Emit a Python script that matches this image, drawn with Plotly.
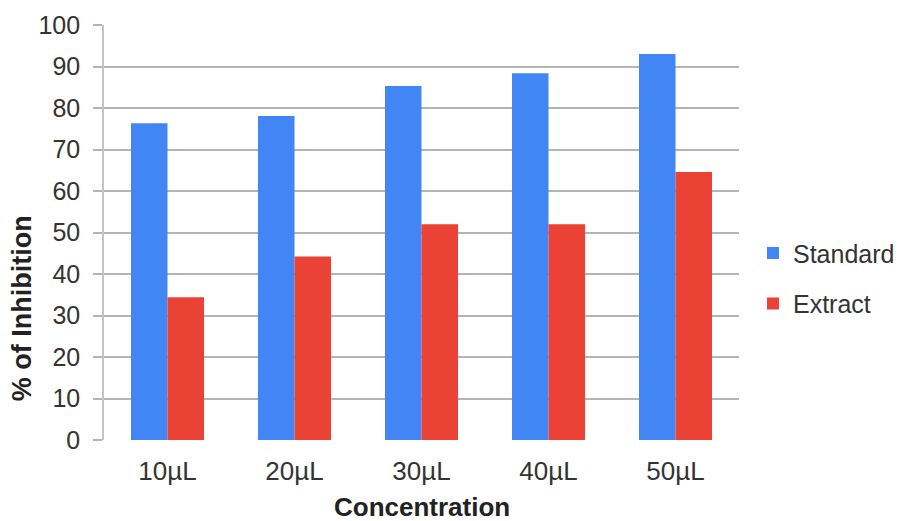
import plotly.graph_objects as go

categories = ["10µL", "20µL", "30µL", "40µL", "50µL"]
standard = [76.3, 78.1, 85.3, 88.4, 93.0]
extract = [34.4, 44.2, 52.0, 52.0, 64.6]
y_ticks = [0, 10, 20, 30, 40, 50, 60, 70, 80, 90, 100]

FONT = "Liberation Sans, Arial, sans-serif"
GRID = "#b4b4b4"

fig = go.Figure()
fig.add_trace(go.Bar(name="Standard", x=categories, y=standard,
                     marker=dict(color="#4285F4", line=dict(width=0)),
                     legendgroup="s"))
fig.add_trace(go.Bar(name="Extract", x=categories, y=extract,
                     marker=dict(color="#EA4335", line=dict(width=0)),
                     legendgroup="e"))

fig.update_layout(
    width=906, height=521,
    margin=dict(l=104, r=167, t=25, b=81, autoexpand=False),
    paper_bgcolor="white", plot_bgcolor="white",
    barmode="group", bargap=0.425, bargroupgap=0,
    font=dict(family=FONT, size=25, color="#333333"),
    showlegend=True,
    legend=dict(x=1.022, xanchor="left", y=0.39, yanchor="middle",
                font=dict(size=25, color="#333333"),
                tracegroupgap=15, bgcolor="rgba(0,0,0,0)"),
    xaxis=dict(showgrid=False, showline=False, ticks="",
               tickfont=dict(size=26, color="#333333"),
               ticklabelstandoff=13),
    yaxis=dict(range=[0, 100], tickvals=y_ticks,
               showgrid=True, gridcolor=GRID, gridwidth=1.6,
               zeroline=False,
               showline=True, linecolor="#c4c4c4", linewidth=1.6,
               ticks="outside", ticklen=9, tickcolor=GRID, tickwidth=1.6,
               tickfont=dict(size=25, color="#333333"),
               ticklabelstandoff=8),
    annotations=[
        dict(text="<b>% of Inhibition</b>", xref="paper", yref="paper",
             x=-0.128, y=0.317, xanchor="center", yanchor="middle",
             textangle=-90, showarrow=False,
             font=dict(size=27, color="#222222", family=FONT)),
        dict(text="<b>Concentration</b>", xref="paper", yref="paper",
             x=0.5, y=-0.161, xanchor="center", yanchor="middle",
             showarrow=False,
             font=dict(size=26, color="#222222", family=FONT)),
    ],
)

fig.write_html("out.html",
               config={"displayModeBar": False},
               post_script="document.body.style.margin='0';"
                           "document.body.style.overflow='hidden';")
